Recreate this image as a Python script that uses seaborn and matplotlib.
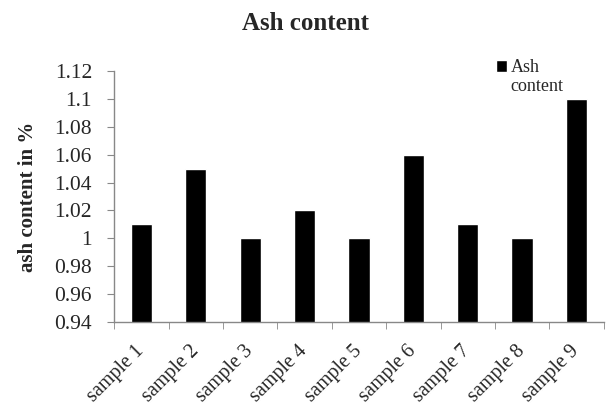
import pandas as pd
import matplotlib.pyplot as plt
import seaborn as sns

samples = ["sample 1", "sample 2", "sample 3", "sample 4", "sample 5",
           "sample 6", "sample 7", "sample 8", "sample 9"]
ash = [1.01, 1.05, 1.00, 1.02, 1.00, 1.06, 1.01, 1.00, 1.10]
y_ticks = [0.94, 0.96, 0.98, 1.0, 1.02, 1.04, 1.06, 1.08, 1.1, 1.12]
y_labels = ["0.94", "0.96", "0.98", "1", "1.02", "1.04", "1.06", "1.08", "1.1", "1.12"]

df = pd.DataFrame({"Sample": samples, "Ash content": ash})

sns.set_style("white")
plt.rcParams["font.family"] = ["Liberation Serif", "DejaVu Serif"]

fig = plt.figure(figsize=(6.11, 4.12), dpi=100)
ax = fig.add_axes([0.187, 0.218, 0.801, 0.610])

sns.barplot(x="Sample", y="Ash content", data=df, color="black", width=0.39,
            saturation=1, ax=ax, label="Ash\ncontent")

ax.set_ylim(0.94, 1.12)
ax.set_xlim(-0.5, len(samples) - 0.5)
ax.set_yticks(y_ticks)
ax.set_yticklabels(y_labels, fontsize=15.5)

ax.set_xticks(range(len(samples)))
ax.set_xticklabels(samples, rotation=45, ha="right", va="center",
                   rotation_mode="anchor", fontsize=14.5)
ax.tick_params(axis="x", length=0, pad=19)
# boundary ticks between categories
ax.set_xticks([i - 0.5 for i in range(len(samples) + 1)], minor=True)
ax.tick_params(axis="x", which="minor", length=5, color="#888888", direction="out", bottom=True)
ax.tick_params(axis="y", length=5, color="#888888", direction="out", left=True, pad=11)

for side in ["top", "right"]:
    ax.spines[side].set_visible(False)
for side in ["left", "bottom"]:
    ax.spines[side].set_color("#888888")
    ax.spines[side].set_linewidth(1)

ax.set_xlabel("")
ax.set_ylabel("ash content in %", fontsize=15, fontweight="bold", labelpad=12)
fig.suptitle("Ash content", fontsize=18, fontweight="bold", x=0.5, y=0.942, va="center")

leg = ax.legend(loc="upper left", bbox_to_anchor=(0.80, 0.875), bbox_transform=fig.transFigure,
                frameon=False, fontsize=13, handlelength=0.6, handleheight=0.6,
                handletextpad=0.2, borderaxespad=0, labelspacing=0)
# put the square next to the first line of the label
h = leg.legend_handles[0]
h.set_y(h.get_y() + 8)

fig.savefig("out.png", dpi=100)
